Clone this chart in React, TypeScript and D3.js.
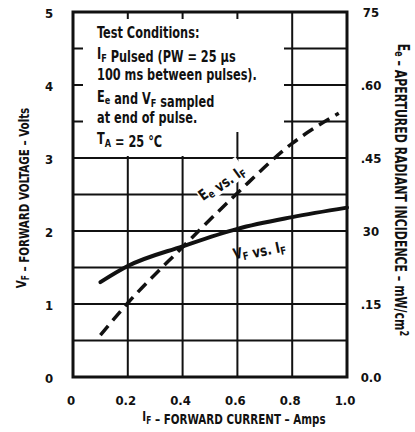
import React from 'react';
import * as d3 from 'd3';

// forward current (A) for each curve
const vfCurrent = [0.1, 0.2, 0.4, 0.6, 0.8, 1.0];
const vfVolts = [1.3, 1.52, 1.79, 2.03, 2.19, 2.32];
const eeCurrent = [0.1, 0.2, 0.4, 0.6, 0.8, 0.97];
const eeIncidence = [0.086, 0.152, 0.267, 0.378, 0.48, 0.542];

const xTicks = [0, 0.2, 0.4, 0.6, 0.8, 1.0];
const xTickLabels = ['0', '0.2', '0.4', '0.6', '0.8', '1.0'];
const vTicks = [0, 1, 2, 3, 4, 5];
const eeTicks = [0, 0.15, 0.3, 0.45, 0.6, 0.75];
const eeTickLabels = ['0.0', '.15', '30', '.45', '.60', '75'];
const vGridLines = [0.5, 1, 1.5, 2, 2.5, 3, 3.5, 4, 4.5];
const xGridLines = [0.2, 0.4, 0.6, 0.8];

const notes = [
  'Test Conditions:',
  'IF Pulsed (PW = 25 µs',
  '100 ms between pulses).',
  'Ee and VF sampled',
  'at end of pulse.',
  'TA = 25 °C',
];

const FONT = '"Liberation Sans Narrow", "DejaVu Sans Condensed", "Arial Narrow", sans-serif';

const App = () => {
  const x = d3.scaleLinear().domain([0, 1]).range([73, 347]);
  const y = d3.scaleLinear().domain([0, 5]).range([377, 12]);
  const yE = d3.scaleLinear().domain([0, 0.75]).range([377, 12]);

  const vfLine = d3.line<number>()
    .x((d, i) => x(vfCurrent[i]))
    .y(d => y(d))
    .curve(d3.curveMonotoneX);
  const eeLine = d3.line<number>()
    .x((d, i) => x(eeCurrent[i]))
    .y(d => yE(d))
    .curve(d3.curveMonotoneX);

  const sub = (main: string, s: string) => (
    <>
      {main}
      <tspan fontSize="0.72em" dy="0.25em">{s}</tspan>
      <tspan dy="-0.25em"></tspan>
    </>
  );

  const noteLine = (t: string, i: number) => {
    if (i === 1) return <>{sub('I', 'F')} Pulsed (PW = 25 µs</>;
    if (i === 3) return <>{sub('E', 'e')} and {sub('V', 'F')} sampled</>;
    if (i === 5) return <>{sub('T', 'A')} = 25 °C</>;
    return t;
  };

  return (
    <svg width={415} height={432} style={{ position: 'absolute', left: 0, top: 0, background: '#fff' }}
      fontFamily={FONT}>
      {/* grid */}
      <g stroke="#111" strokeWidth={2}>
        {vGridLines.map(v => (
          <line key={'h' + v} x1={x(0)} x2={x(1)} y1={y(v)} y2={y(v)} />
        ))}
        {xGridLines.map(v => (
          <line key={'v' + v} x1={x(v)} x2={x(v)} y1={y(0)} y2={y(5)} />
        ))}
      </g>
      {/* blank area for the test conditions */}
      <rect x={83} y={19} width={148} height={137} fill="#fff" />
      <rect x={231} y={19} width={53} height={113} fill="#fff" />
      <rect x={x(0)} y={y(5)} width={x(1) - x(0)} height={y(0) - y(5)} fill="none" stroke="#111" strokeWidth={3} />

      <g fontSize={15} fontWeight="bold" fill="#111" transform="translate(97,0) scale(0.84,1)">
        {notes.map((t, i) => (
          <text key={i} x={0} y={38 + i * 21.2}>{noteLine(t, i)}</text>
        ))}
      </g>

      {/* curves */}
      <path d={eeLine(eeIncidence) || ''} fill="none" stroke="#111" strokeWidth={3.5} strokeDasharray="12 7" />
      <path d={vfLine(vfVolts) || ''} fill="none" stroke="#111" strokeWidth={4} strokeLinecap="round" />

      <g transform="translate(221,182) rotate(-36) scale(0.88,1)">
        <rect x={-30} y={-12} width={60} height={22} fill="#fff" />
        <text textAnchor="middle" y={5} fontSize={15} fontWeight="bold" fill="#111">
          {sub('E', 'e')} vs. {sub('I', 'F')}
        </text>
      </g>
      <g transform="translate(259,249) rotate(-12) scale(0.88,1)">
        <text textAnchor="middle" y={5} fontSize={15} fontWeight="bold" fill="#111">
          {sub('V', 'F')} vs. {sub('I', 'F')}
        </text>
      </g>

      {/* axis labels */}
      <g fontSize={13} fontWeight="bold" fill="#111" textAnchor="middle">
        {vTicks.map(v => (
          <text key={'yl' + v} x={49} y={y(v) + 6}>{v}</text>
        ))}
        {eeTicks.map((v, i) => (
          <text key={'yr' + v} x={371} y={yE(v) + 5}>{eeTickLabels[i]}</text>
        ))}
        {xTicks.map((v, i) => (
          <text key={'xl' + v} x={x(v) - 2} y={405}>{xTickLabels[i]}</text>
        ))}
      </g>

      <g fontWeight="bold" fill="#111" textAnchor="middle">
        <text fontSize={14} transform="translate(234,421) scale(0.82,1)">{sub('I', 'F')} – FORWARD CURRENT – Amps</text>
        <text fontSize={14} transform="translate(26,198) rotate(-90) scale(0.82,1)">{sub('V', 'F')} – FORWARD VOLTAGE – Volts</text>
        <text fontSize={16} transform="translate(398,190) rotate(90) scale(0.76,1)">{sub('E', 'e')} – APERTURED RADIANT INCIDENCE – mW/cm<tspan fontSize="0.75em" dy="-0.4em">2</tspan></text>
      </g>
    </svg>
  );
};

export default App;
